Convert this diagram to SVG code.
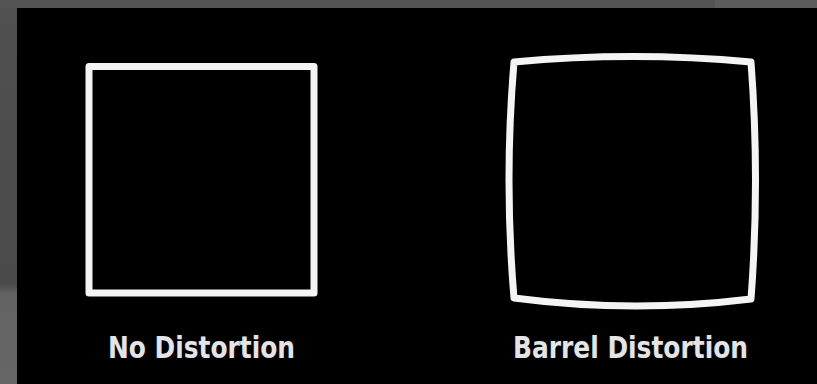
<svg xmlns="http://www.w3.org/2000/svg" width="817" height="384" viewBox="0 0 817 384">
  <defs>
    <linearGradient id="lg" x1="0" y1="0" x2="0" y2="1">
      <stop offset="0" stop-color="#505050"/>
      <stop offset="0.74" stop-color="#4a4a4a"/>
      <stop offset="0.765" stop-color="#636363"/>
      <stop offset="1" stop-color="#666666"/>
    </linearGradient>
  </defs>
  <style>
    .shape { fill: none; stroke: #f4f4f4; stroke-width: 7; stroke-linejoin: round; }
    .lbl { font-family: "DejaVu Sans", "Liberation Sans", sans-serif; font-stretch: condensed; font-size: 31px; font-weight: bold; fill: #e4e4e4; }
  </style>
  <rect x="0" y="0" width="817" height="384" fill="url(#lg)"/>
  <rect x="0" y="0" width="817" height="8" fill="#545454"/>
  <rect x="715" y="0" width="102" height="8" fill="#5c5c5c"/>
  <rect x="17" y="8" width="800" height="376" fill="#000000"/>
  <g id="no-distortion">
    <rect class="shape" x="89" y="66.5" width="225" height="226.5"/>
    <text class="lbl" x="108" y="358" textLength="187" lengthAdjust="spacingAndGlyphs">No Distortion</text>
  </g>
  <g id="barrel-distortion">
    <path class="shape" d="M514,62 Q632.5,51 751,62 Q760,180.5 751,299 Q632.5,313.5 514,298 Q504,180 514,62 Z"/>
    <text class="lbl" x="513" y="358" textLength="235" lengthAdjust="spacingAndGlyphs">Barrel Distortion</text>
  </g>
  <g id="connectors"/>
</svg>
